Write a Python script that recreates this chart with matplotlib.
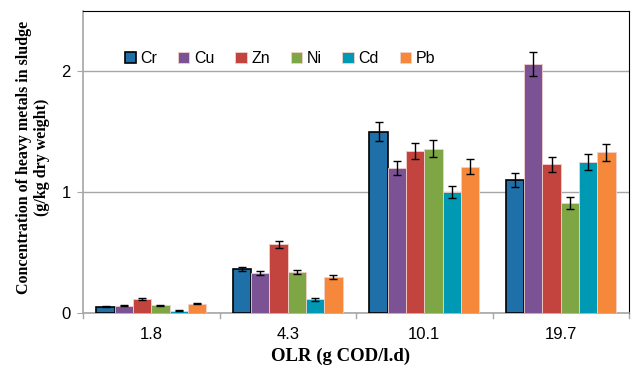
import matplotlib.pyplot as plt
import numpy as np

olr = ["1.8", "4.3", "10.1", "19.7"]
metals = ["Cr", "Cu", "Zn", "Ni", "Cd", "Pb"]

# values (g/kg dry weight) per metal, one entry per OLR
cr = [0.052, 0.364, 1.50, 1.10]
cu = [0.060, 0.330, 1.20, 2.06]
zn = [0.115, 0.570, 1.34, 1.23]
ni = [0.064, 0.340, 1.36, 0.91]
cd = [0.020, 0.113, 1.00, 1.25]
pb = [0.077, 0.300, 1.21, 1.33]

cr_err = [0.005, 0.020, 0.077, 0.058]
cu_err = [0.005, 0.017, 0.060, 0.100]
zn_err = [0.007, 0.030, 0.066, 0.060]
ni_err = [0.005, 0.017, 0.070, 0.047]
cd_err = [0.004, 0.010, 0.050, 0.066]
pb_err = [0.005, 0.015, 0.062, 0.072]

values = [cr, cu, zn, ni, cd, pb]
errors = [cr_err, cu_err, zn_err, ni_err, cd_err, pb_err]
colors = ["#1F6FA8", "#7B5394", "#C3443F", "#7EA645", "#0099B3", "#F5883A"]

fig = plt.figure(figsize=(6.33, 3.72), dpi=100)
ax = fig.add_axes([83 / 633, 1 - 313 / 372, (629 - 83) / 633, (313 - 11) / 372])

x = np.arange(len(olr))
w = 0.134
for i, (name, vals, errs, c) in enumerate(zip(metals, values, errors, colors)):
    pos = x + (i - 2.5) * w
    ec = "black" if name == "Cr" else "#F2D0CC"
    lw = 1.2 if name == "Cr" else 0.6
    ax.bar(pos, vals, width=w, color=c, edgecolor=ec, linewidth=lw, label=name,
           zorder=3)
    ax.errorbar(pos, vals, yerr=errs, fmt="none", ecolor="black", elinewidth=1,
                capsize=3, capthick=1, zorder=4)

ax.set_xlim(-0.5, 3.5)
ax.set_ylim(0, 2.5)
ax.set_yticks([0, 1, 2])
ax.set_yticklabels(["0", "1", "2"], fontsize=12, family="Liberation Sans")
ax.yaxis.grid(True, color="#A6A6A6", linewidth=1, zorder=0)
ax.set_xticks(x)
ax.set_xticklabels(olr, fontsize=12, family="Liberation Sans")
ax.tick_params(axis="x", length=0, pad=10)
ax.tick_params(axis="y", length=4, color="#A6A6A6", pad=5)
for b in np.arange(-0.5, 4.0, 1.0):
    ax.plot([b, b], [0, -0.04], color="#A6A6A6", linewidth=1, clip_on=False)

for s in ["left", "bottom"]:
    ax.spines[s].set_color("#A6A6A6")
    ax.spines[s].set_linewidth(1.2)
for s in ["top", "right"]:
    ax.spines[s].set_color("black")
    ax.spines[s].set_linewidth(0.8)

ax.set_ylabel("Concentration of heavy metals in sludge\n(g/kg dry weight)",
              fontsize=11.5, fontweight="bold", family="Liberation Serif",
              linespacing=1.2)
ax.yaxis.set_label_coords(-33 / 546, 0.515)
ax.set_xlabel("OLR (g COD/l.d)", fontsize=13.5, fontweight="bold",
              family="Liberation Serif")
ax.xaxis.set_label_coords(0.4725, -0.115)

ax.legend(loc="upper left", bbox_to_anchor=(0.05, 0.915), ncol=6, frameon=False,
          prop={"family": "Liberation Sans", "size": 11.5}, handlelength=0.7,
          handleheight=0.7, handletextpad=0.3, columnspacing=1.3)

fig.savefig("out.png", dpi=100)
